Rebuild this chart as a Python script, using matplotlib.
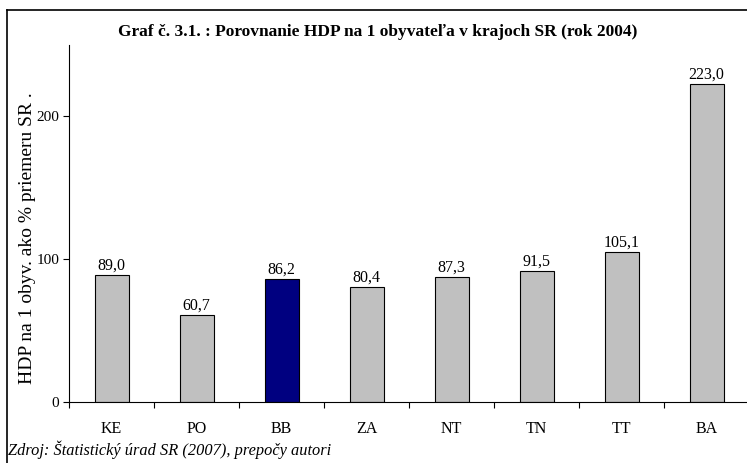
import matplotlib
matplotlib.use("Agg")
import matplotlib.pyplot as plt
from matplotlib.lines import Line2D

regions = ["KE", "PO", "BB", "ZA", "NT", "TN", "TT", "BA"]
values = [89.0, 60.7, 86.2, 80.4, 87.3, 91.5, 105.1, 223.0]
highlight = "BB"
yticks = [0, 100, 200]

plt.rcParams['font.family'] = ['Liberation Serif', 'DejaVu Serif']

fig = plt.figure(figsize=(7.47, 4.63), dpi=100)
ax = fig.add_axes([69/747, 1-402/463, 680/747, (402-45)/463])

colors = ["#000080" if r == highlight else "#C0C0C0" for r in regions]
x = list(range(len(regions)))
bars = ax.bar(x, values, width=0.4, color=colors, edgecolor="black", linewidth=0.8)
for xi, v in zip(x, values):
    ax.annotate(f"{v:.1f}".replace(".", ","), (xi, v), xytext=(0, 1.0),
                textcoords="offset points", ha="center", va="bottom", fontsize=11.5)

ax.set_xlim(-0.5, len(regions) - 0.5)
ax.set_ylim(0, 250)
ax.set_yticks(yticks)
ax.set_yticklabels([str(t) for t in yticks], fontsize=11)
ax.set_xticks(x)
ax.set_xticklabels(regions, fontsize=11.5)
ax.tick_params(axis="x", length=0, pad=14)
ax.set_xticks([i + 0.5 for i in range(-1, len(regions))], minor=True)
ax.tick_params(axis="x", which="minor", length=4, width=0.8, direction="out")
ax.tick_params(axis="y", length=4, width=0.8, direction="out", pad=3)
for s in ["top", "right"]:
    ax.spines[s].set_visible(False)
for s in ["left", "bottom"]:
    ax.spines[s].set_linewidth(0.8)

fig.text(378/747, 1-32/463, "Graf č. 3.1. : Porovnanie HDP na 1 obyvateľa v krajoch SR (rok 2004)",
         ha="center", va="center", fontsize=12.5, fontweight="bold")
fig.text(28/747, 1-238/463, "HDP na 1 obyv. ako % priemeru SR .", rotation=90,
         ha="center", va="center", fontsize=14)
fig.text(8/747, 1-450/463, "Zdroj: Štatistický úrad SR (2007), prepočy autori",
         ha="left", va="center", fontsize=11.8, style="italic")

fig.add_artist(Line2D([7/747, 7/747], [0, 1-10/463], transform=fig.transFigure,
                      color="black", linewidth=1.2))
fig.add_artist(Line2D([7/747, 1], [1-10/463, 1-10/463], transform=fig.transFigure,
                      color="black", linewidth=1.2))

fig.savefig("out.png", dpi=100)
